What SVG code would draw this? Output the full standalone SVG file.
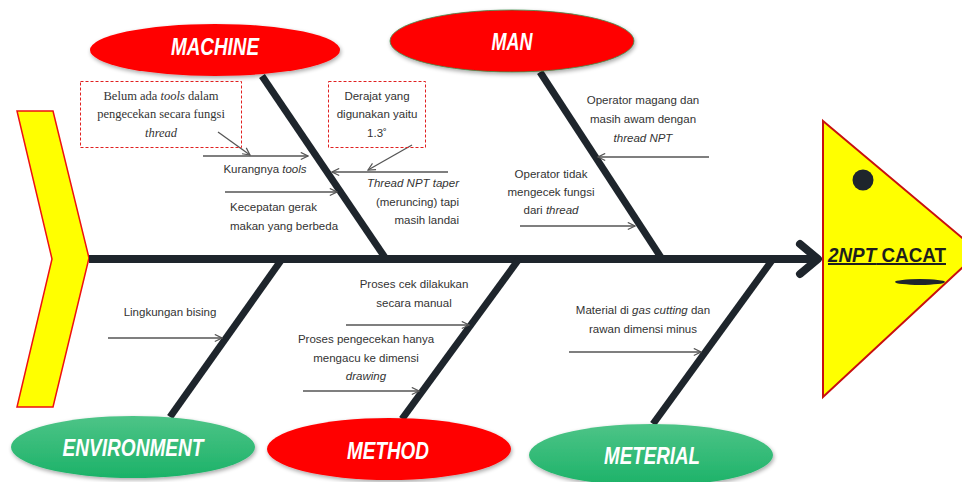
<svg xmlns="http://www.w3.org/2000/svg" width="962" height="482" viewBox="0 0 962 482">
<style>
.bone{stroke:#1e252c;stroke-width:7;stroke-linecap:butt;fill:none}
.arr{stroke:#555;stroke-width:1.3;fill:none;marker-end:url(#ah)}
.lbl{font-family:"Liberation Sans",Arial,sans-serif;font-size:11.5px;fill:#333;text-anchor:middle}
.ser{font-family:"Liberation Serif","Times New Roman",serif;font-size:12.5px;fill:#333;text-anchor:middle}
.cat{font-family:"Liberation Sans",Arial,sans-serif;font-size:24px;font-weight:bold;font-style:italic;fill:#fff;text-anchor:middle}
.box{fill:none;stroke:#e02020;stroke-width:1;stroke-dasharray:3,2}
.red{fill:#ff0000;filter:url(#sh)}
.grn{fill:url(#gg);filter:url(#sh)}
</style>
<defs>
<marker id="ah" viewBox="0 0 10 10" refX="9" refY="5" markerWidth="9" markerHeight="9" markerUnits="userSpaceOnUse" orient="auto">
<path d="M1,1 L9,5 L1,9" fill="none" stroke="#555" stroke-width="1.3"/>
</marker>
<linearGradient id="gg" x1="0" y1="0" x2="0" y2="1">
<stop offset="0" stop-color="#4dc487"/>
<stop offset="1" stop-color="#1cb268"/>
</linearGradient>
<filter id="sh" x="-10%" y="-20%" width="120%" height="150%">
<feGaussianBlur in="SourceAlpha" stdDeviation="2"/>
<feOffset dx="1" dy="2" result="b"/>
<feComponentTransfer><feFuncA type="linear" slope="0.35"/></feComponentTransfer>
<feMerge><feMergeNode/><feMergeNode in="SourceGraphic"/></feMerge>
</filter>
</defs>
<rect width="962" height="482" fill="#fff"/>

<g id="tail">
<polygon points="17,111 53,111 89,258 53,407 17,407 52,259" fill="#ffff00" stroke="#ee1111" stroke-width="1.5"/>
</g>

<g id="connectors">
<line class="bone" x1="89" y1="259" x2="816" y2="259" style="stroke-width:8"/>
<polyline points="800,244 818,259 800,274" fill="none" stroke="#1e252c" stroke-width="8" stroke-linecap="round" stroke-linejoin="round"/>
<line class="bone" x1="262" y1="76" x2="386" y2="259"/>
<line class="bone" x1="540" y1="72" x2="662" y2="259"/>
<line class="bone" x1="282" y1="259" x2="170" y2="417"/>
<line class="bone" x1="519" y1="259" x2="402" y2="419"/>
<line class="bone" x1="773" y1="259" x2="653" y2="424"/>
<line class="arr" x1="203" y1="156" x2="308" y2="156"/>
<line class="arr" x1="225" y1="192" x2="337" y2="192"/>
<line class="arr" x1="448" y1="172" x2="332" y2="172"/>
<line class="arr" x1="218" y1="132" x2="250" y2="155"/>
<line class="arr" x1="412" y1="145" x2="368" y2="170"/>
<line class="arr" x1="709" y1="157" x2="598" y2="157"/>
<line class="arr" x1="520" y1="226" x2="635" y2="226"/>
<line class="arr" x1="108" y1="338" x2="222" y2="338"/>
<line class="arr" x1="346" y1="325" x2="469" y2="325"/>
<line class="arr" x1="303" y1="391" x2="419" y2="391"/>
<line class="arr" x1="569" y1="352" x2="701" y2="352"/>
</g>

<g id="head">
<polygon points="823,121 979,252 823,397" fill="#ffff00" stroke="#c81010" stroke-width="2"/>
<circle cx="863" cy="180" r="10.5" fill="#1e252c"/>
<ellipse cx="920" cy="282" rx="25" ry="3" fill="#1e252c"/>
<text x="887" y="262" font-family="'Liberation Sans',Arial,sans-serif" font-size="20" font-weight="bold" fill="#1e1e1e" text-anchor="middle" text-decoration="underline" textLength="118" lengthAdjust="spacingAndGlyphs"><tspan font-style="italic">2NPT</tspan> CACAT</text>
</g>

<g id="machine">
<ellipse class="red" cx="215" cy="50" rx="125" ry="26"/>
<text class="cat" x="215" y="55" textLength="88" lengthAdjust="spacingAndGlyphs">MACHINE</text>
</g>
<g id="man">
<ellipse class="red" cx="512" cy="41" rx="122" ry="31" stroke="#3f8f4f" stroke-width="0.8"/>
<text class="cat" x="512" y="50" textLength="41" lengthAdjust="spacingAndGlyphs">MAN</text>
</g>
<g id="environment">
<ellipse class="grn" cx="133" cy="447" rx="122" ry="31"/>
<text class="cat" x="133" y="456" textLength="141" lengthAdjust="spacingAndGlyphs">ENVIRONMENT</text>
</g>
<g id="method">
<ellipse class="red" cx="389" cy="449" rx="122" ry="31"/>
<text class="cat" x="388" y="459" textLength="82" lengthAdjust="spacingAndGlyphs">METHOD</text>
</g>
<g id="meterial">
<ellipse class="grn" cx="651" cy="455" rx="122" ry="31"/>
<text class="cat" x="652" y="464" textLength="96" lengthAdjust="spacingAndGlyphs">METERIAL</text>
</g>

<g id="note-tools">
<rect class="box" x="80.5" y="81.5" width="161" height="66"/>
<text class="ser" x="161" y="100">Belum  ada <tspan font-style="italic">tools</tspan> dalam</text>
<text class="ser" x="161" y="118">pengecekan  secara fungsi</text>
<text class="ser" x="161" y="137" font-style="italic">thread</text>
</g>
<g id="note-derajat">
<rect class="box" x="328.5" y="81.5" width="97" height="66"/>
<text class="lbl" x="377" y="100">Derajat yang</text>
<text class="lbl" x="377" y="118">digunakan yaitu</text>
<text class="lbl" x="377" y="137">1.3˚</text>
</g>

<g id="cause-kurangnya">
<text class="lbl" x="265" y="173">Kurangnya <tspan font-style="italic">tools</tspan></text>
</g>
<g id="cause-kecepatan">
<text class="lbl" x="230" y="211" style="text-anchor:start">Kecepatan gerak</text>
<text class="lbl" x="230" y="230" style="text-anchor:start">makan yang berbeda</text>
</g>
<g id="cause-thread">
<text class="lbl" x="459" y="187" style="text-anchor:end;font-style:italic">Thread NPT taper</text>
<text class="lbl" x="459" y="206" style="text-anchor:end">(meruncing) tapi</text>
<text class="lbl" x="459" y="224" style="text-anchor:end">masih landai</text>
</g>
<g id="cause-magang">
<text class="lbl" x="643" y="104">Operator magang dan</text>
<text class="lbl" x="643" y="123">masih awam dengan</text>
<text class="lbl" x="643" y="142" font-style="italic">thread NPT</text>
</g>
<g id="cause-tidak">
<text class="lbl" x="551" y="178">Operator tidak</text>
<text class="lbl" x="551" y="196">mengecek fungsi</text>
<text class="lbl" x="551" y="214">dari <tspan font-style="italic">thread</tspan></text>
</g>
<g id="cause-bising">
<text class="lbl" x="170" y="316">Lingkungan bising</text>
</g>
<g id="cause-manual">
<text class="lbl" x="414" y="288">Proses  cek dilakukan</text>
<text class="lbl" x="414" y="307">secara manual</text>
</g>
<g id="cause-drawing">
<text class="lbl" x="366" y="343">Proses  pengecekan  hanya</text>
<text class="lbl" x="366" y="362">mengacu ke dimensi</text>
<text class="lbl" x="366" y="380" font-style="italic">drawing</text>
</g>
<g id="cause-material">
<text class="lbl" x="643" y="314">Material di <tspan font-style="italic">gas cutting</tspan> dan</text>
<text class="lbl" x="643" y="333">rawan dimensi  minus</text>
</g>
</svg>
